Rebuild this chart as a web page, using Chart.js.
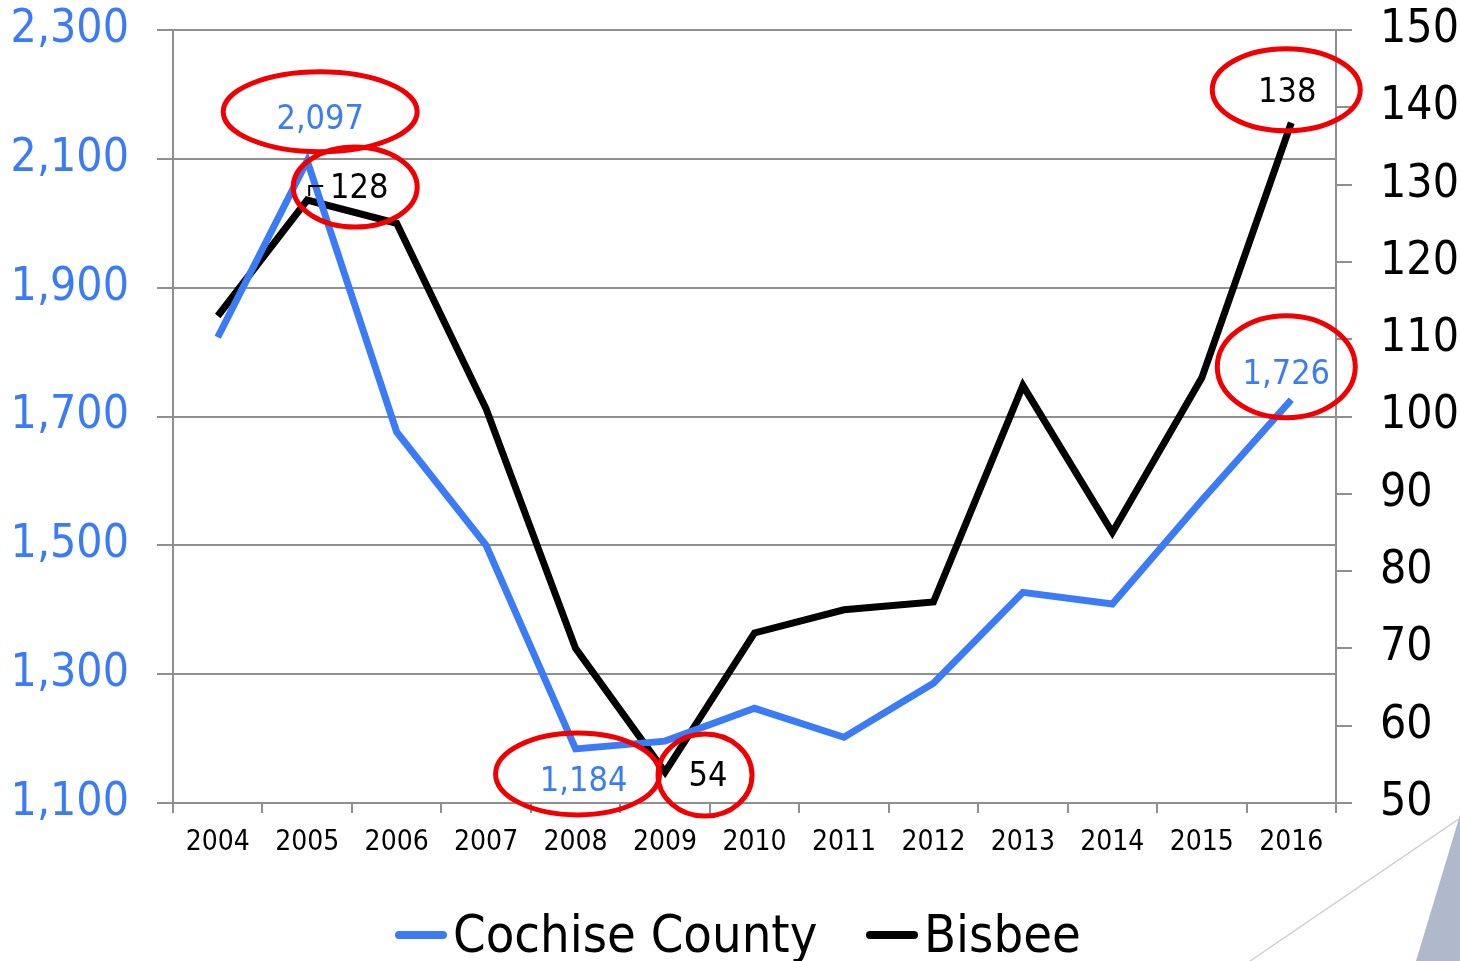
<!DOCTYPE html>
<html>
<head>
<meta charset="utf-8">
<script src="https://cdn.jsdelivr.net/npm/chart.js@4"></script>
<style>
  html, body { margin: 0; padding: 0; background: #fff; }
  #wrap { width: 1460px; height: 961px; position: relative; }
</style>
</head>
<body>
<div id="wrap"><canvas id="myChart" width="1460" height="961"></canvas></div>
<script>
const years = ['2004', '2005', '2006', '2007', '2008', '2009', '2010', '2011', '2012', '2013', '2014', '2015', '2016'];
const cochise = [1823, 2097, 1676, 1500, 1184, 1196, 1247, 1202, 1286, 1427, 1409, 1570, 1726];
const bisbee = [113, 128, 125, 101, 70, 54, 72, 75, 76, 104, 85, 105, 138];
const leftTicks = [1100, 1300, 1500, 1700, 1900, 2100, 2300];
const rightTicks = [50, 60, 70, 80, 90, 100, 110, 120, 130, 140, 150];

// which points get a circled label: [dataset, index, dx, dy, rx, ry, ex, ey]
const callouts = [
    [0, 1, 13, -41, 97, 40, 0, -8],
    [1, 1, 52, -11, 62, 40, -4, -2],
    [0, 4, 8, 33, 82, 41, -6, -8],
    [1, 5, 43, 5, 47, 41, -3, -2],
    [0, 12, -5, -25, 69, 51, 0, -8],
    [1, 12, -4, -30, 74, 41, -1, -3]
];

const FONT = "'DejaVu Sans Condensed', 'DejaVu Sans', sans-serif";
const BLUE = '#3b7cf6';
const GRID = '#8f8f8f';

function fmt(v) {
    return v.toLocaleString('en-US');
}

const calloutPlugin = {
    id: 'callouts',
    afterDatasetsDraw(chart) {
        const ctx = chart.ctx;
        ctx.save();
        ctx.font = '34px ' + FONT;
        ctx.textAlign = 'center';
        ctx.textBaseline = 'middle';
        callouts.forEach(function(c) {
            const ds = chart.data.datasets[c[0]];
            const pt = chart.getDatasetMeta(c[0]).data[c[1]];
            const x = pt.x + c[2], y = pt.y + c[3];
            ctx.fillStyle = ds.borderColor;
            ctx.fillText(fmt(ds.data[c[1]]), x, y);
            ctx.beginPath();
            ctx.ellipse(x + c[6], y + c[7], c[4], c[5], 0, 0, Math.PI * 2);
            ctx.strokeStyle = '#f00000';
            ctx.lineWidth = 5;
            ctx.stroke();
        });
        // small leader mark next to the 128 label
        const p = chart.getDatasetMeta(1).data[1];
        ctx.beginPath();
        ctx.moveTo(p.x + 2, p.y - 4);
        ctx.lineTo(p.x + 2, p.y - 14);
        ctx.lineTo(p.x + 16, p.y - 14);
        ctx.strokeStyle = '#000';
        ctx.lineWidth = 2;
        ctx.stroke();
        ctx.restore();
    },
    afterDraw(chart) {
        const ctx = chart.ctx;
        ctx.save();
        // legend: short thick line then series name
        const legendX = [395, 866];
        ctx.font = '52px ' + FONT;
        ctx.textBaseline = 'middle';
        ctx.textAlign = 'left';
        chart.data.datasets.forEach(function(ds, i) {
            const x = legendX[i], y = 935;
            ctx.beginPath();
            ctx.moveTo(x + 4, y);
            ctx.lineTo(x + 48, y);
            ctx.strokeStyle = ds.borderColor;
            ctx.lineWidth = 8;
            ctx.lineCap = 'round';
            ctx.stroke();
            ctx.fillStyle = '#000';
            ctx.fillText(ds.label, x + 58, y + 3);
        });
        // slide decoration bottom right
        ctx.beginPath();
        ctx.moveTo(1460, 815);
        ctx.lineTo(1460, 961);
        ctx.lineTo(1416, 961);
        ctx.closePath();
        ctx.fillStyle = '#b0b8cc';
        ctx.fill();
        ctx.beginPath();
        ctx.moveTo(1460, 818);
        ctx.lineTo(1250, 961);
        ctx.strokeStyle = '#d0d0d0';
        ctx.lineWidth = 1.5;
        ctx.stroke();
        ctx.restore();
    }
};

function noEdgePadding(scale) {
    scale.paddingTop = 0;
    scale.paddingBottom = 0;
}

const ctx = document.getElementById('myChart').getContext('2d');
const chart = new Chart(ctx, {
    type: 'line',
    data: {
        labels: years,
        datasets: [
            {
                label: 'Cochise County',
                data: cochise,
                borderColor: BLUE,
                backgroundColor: BLUE,
                borderWidth: 7,
                pointRadius: 0,
                tension: 0,
                yAxisID: 'y'
            },
            {
                label: 'Bisbee',
                data: bisbee,
                borderColor: '#000000',
                backgroundColor: '#000000',
                borderWidth: 7,
                pointRadius: 0,
                tension: 0,
                yAxisID: 'y1'
            }
        ]
    },
    options: {
        responsive: false,
        animation: false,
        layout: { padding: { top: 30, left: 0, right: 0, bottom: 0 } },
        plugins: {
            tooltip: { enabled: false },
            legend: { display: false }
        },
        scales: {
            x: {
                offset: true,
                grid: {
                    offset: true,
                    drawOnChartArea: false,
                    color: GRID,
                    lineWidth: 2,
                    tickLength: 10
                },
                border: { color: GRID, width: 2 },
                ticks: {
                    color: '#000',
                    padding: 13,
                    maxRotation: 0,
                    font: { family: FONT, size: 28 }
                },
                afterFit(scale) { scale.height = 158; }
            },
            y: {
                position: 'left',
                min: 1100,
                max: 2300,
                afterBuildTicks(scale) {
                    scale.ticks = leftTicks.map(v => ({ value: v }));
                },
                grid: { color: GRID, lineWidth: 2, tickLength: 16 },
                border: { color: GRID, width: 2 },
                ticks: {
                    color: BLUE,
                    padding: 28,
                    font: { family: FONT, size: 46 },
                    callback: v => fmt(v)
                },
                afterFit(scale) { scale.width = 173; noEdgePadding(scale); }
            },
            y1: {
                position: 'right',
                min: 50,
                max: 150,
                afterBuildTicks(scale) {
                    scale.ticks = rightTicks.map(v => ({ value: v }));
                },
                grid: { drawOnChartArea: false, color: GRID, lineWidth: 2, tickLength: 16 },
                border: { color: GRID, width: 2 },
                ticks: {
                    color: '#000',
                    padding: 28,
                    font: { family: FONT, size: 46 }
                },
                afterFit(scale) { scale.width = 124; noEdgePadding(scale); }
            }
        }
    },
    plugins: [calloutPlugin]
});
</script>
</body>
</html>
